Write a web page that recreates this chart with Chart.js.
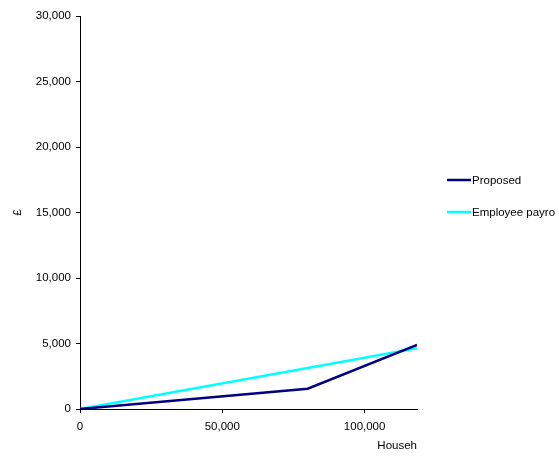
<!DOCTYPE html>
<html>
<head>
<meta charset="utf-8">
<script src="https://cdn.jsdelivr.net/npm/chart.js@4"></script>
<style>
  html, body { margin: 0; padding: 0; background: #fff; }
  #wrap { width: 559px; height: 458px; }
</style>
</head>
<body>
<div id="wrap"><canvas id="myChart" width="559" height="458"></canvas></div>
<script>
// values
const income = [0, 80000, 118400];
const proposed = [0, 1550, 4900];
const payroll = [0, 3130, 4630];
const xTicks = [0, 50000, 100000];
const seriesNames = ['Proposed', 'Employee payro'];
const seriesColors = ['#000080', '#00ffff'];
const xTitle = 'Househ';
const yTitle = '£';

const FONT = 'Liberation Sans, Arial, sans-serif';
const FS = 11.5;

function pts(ys) {
    return income.map((x, i) => ({ x: x, y: ys[i] }));
}

// legend drawn by hand so it can run off the right edge like the original
const sideLegend = {
    id: 'sideLegend',
    afterDraw(chart) {
        const c = chart.ctx;
        c.save();
        c.font = FS + 'px ' + FONT;
        c.textBaseline = 'middle';
        chart.data.datasets.forEach((ds, i) => {
            const y = 180 + i * 32;
            c.strokeStyle = ds.borderColor;
            c.lineWidth = 2.5;
            c.beginPath();
            c.moveTo(447, y);
            c.lineTo(471, y);
            c.stroke();
            c.fillStyle = '#000';
            c.fillText(ds.label, 472, y + 0.5);
        });
        c.restore();
    }
};

const ctx = document.getElementById('myChart');

theChart = new Chart(ctx, {
    type: 'line',
    data: {
        datasets: [{
            label: seriesNames[0],
            data: pts(proposed),
            borderColor: seriesColors[0],
            backgroundColor: seriesColors[0],
            borderWidth: 2.5,
            pointRadius: 0,
            tension: 0
        },
        {
            label: seriesNames[1],
            data: pts(payroll),
            borderColor: seriesColors[1],
            backgroundColor: seriesColors[1],
            borderWidth: 2.5,
            pointRadius: 0,
            tension: 0
        }]
    },
    options: {
        responsive: false,
        animation: false,
        layout: { padding: { top: 16, right: 142, left: 0, bottom: 0 } },
        plugins: {
            legend: { display: false },
            tooltip: { enabled: false }
        },
        scales: {
            x: {
                type: 'linear',
                min: 0,
                max: 118400,
                afterBuildTicks: (s) => { s.ticks = xTicks.map(v => ({ value: v })); },
                afterFit: (s) => { s.height = 49; },
                border: { color: '#000', width: 1 },
                grid: { drawOnChartArea: false, color: '#000', tickLength: 4 },
                ticks: {
                    autoSkip: false,
                    color: '#000',
                    padding: 7,
                    maxRotation: 0,
                    font: { family: FONT, size: FS },
                    callback: (v) => v.toLocaleString('en-GB')
                },
                title: {
                    display: true,
                    text: xTitle,
                    align: 'end',
                    color: '#000',
                    padding: { top: 0, bottom: 5 },
                    font: { family: FONT, size: FS }
                }
            },
            y: {
                min: 0,
                max: 30000,
                afterFit: (s) => { s.width = 80; },
                border: { color: '#000', width: 1 },
                grid: { drawOnChartArea: false, color: '#000', tickLength: 4 },
                ticks: {
                    stepSize: 5000,
                    color: '#000',
                    padding: 5,
                    font: { family: FONT, size: FS },
                    callback: (v) => v.toLocaleString('en-GB')
                },
                title: {
                    display: true,
                    text: yTitle,
                    color: '#000',
                    padding: { top: 11, bottom: 0 },
                    font: { family: FONT, size: FS }
                }
            }
        }
    },
    plugins: [sideLegend]
});
</script>
</body>
</html>
